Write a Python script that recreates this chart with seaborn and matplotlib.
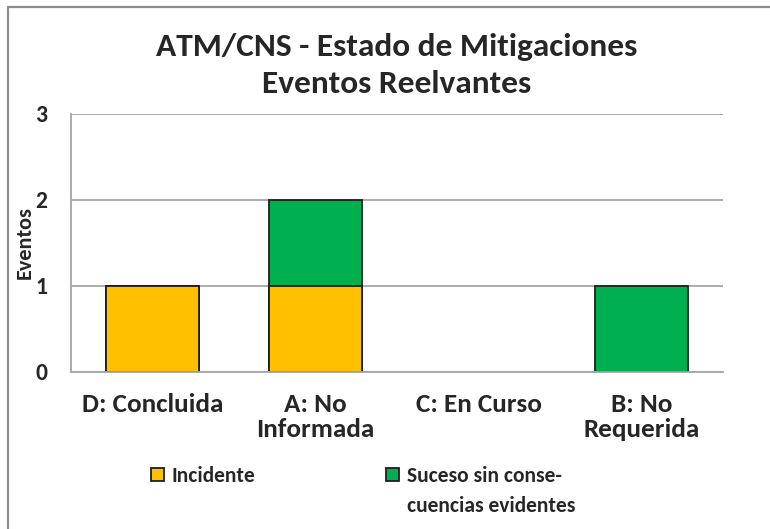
import pandas as pd
import seaborn as sns
import matplotlib.pyplot as plt
from matplotlib.patches import Patch
from matplotlib.lines import Line2D
from matplotlib.transforms import IdentityTransform

# Values
categories = ["D: Concluida", "A: No\nInformada", "C: En Curso", "B: No\nRequerida"]
incidente = [1, 1, 0, 0]
suceso = [0, 1, 0, 1]
series_names = ["Incidente", "Suceso sin conse-", "cuencias evidentes"]
yticks = [0, 1, 2, 3]

orange = "#FFC000"
green = "#00B050"
edge = "#1E1E1E"
grid = "#A6A6A6"

df = pd.DataFrame({"categoria": categories, "incidente": incidente, "suceso": suceso})
df["total"] = df["incidente"] + df["suceso"]
# empty stacks are not drawn at all
df["total"] = df["total"].where(df["total"] > 0)
df["incidente"] = df["incidente"].where(df["incidente"] > 0)

sns.set_style("white")
plt.rcParams["font.family"] = ["Carlito", "DejaVu Sans"]

fig = plt.figure(figsize=(7.7, 5.29), dpi=100)
ax = fig.add_axes([0.0922, 0.2968, 0.8468, 0.4877])

# stacked bars: total in green, then the bottom series in orange over it
sns.barplot(data=df, x="categoria", y="total", order=categories, color=green,
            saturation=1, width=0.57, edgecolor=edge, linewidth=1.3, ax=ax)
sns.barplot(data=df, x="categoria", y="incidente", order=categories, color=orange,
            saturation=1, width=0.57, edgecolor=edge, linewidth=1.3, ax=ax)

ax.set_xlim(-0.5, len(categories) - 0.5)
ax.set_ylim(0, 3)
ax.set_yticks(yticks)
ax.set_yticklabels([str(t) for t in yticks], fontsize=17, fontweight="bold")
ax.yaxis.grid(True, color=grid, linewidth=1.3)
ax.set_axisbelow(True)

ax.set_xticks(range(len(categories)))
ax.set_xticklabels(categories, fontsize=19.5, fontweight="bold")
for t in ax.get_xticklabels():
    t.set_linespacing(1.12)
ax.tick_params(axis="x", which="major", length=0, pad=15)
ax.set_xticks([i - 0.5 for i in range(len(categories) + 1)], minor=True)
ax.tick_params(axis="x", which="minor", length=6, color=grid, width=1.3)
ax.tick_params(axis="y", length=5, color=grid, width=1.3, pad=12)
ax.set_xlabel("")
ax.set_ylabel("Eventos", fontsize=16, fontweight="bold")
ax.yaxis.set_label_coords(-0.055, 0.5)

for s in ["top", "right"]:
    ax.spines[s].set_visible(False)
for s in ["left", "bottom"]:
    ax.spines[s].set_color(grid)
    ax.spines[s].set_linewidth(1.3)

ax.set_title("ATM/CNS - Estado de Mitigaciones\nEventos Reelvantes",
             fontsize=24, fontweight="bold", linespacing=1.42, pad=15)

handles = [Patch(facecolor=orange, edgecolor=edge, linewidth=1.3),
           Patch(facecolor=green, edgecolor=edge, linewidth=1.3)]
leg = fig.legend(handles, series_names[:2], loc="center left", bbox_to_anchor=(0.196, 0.1),
                 ncol=2, frameon=False, prop={"size": 15.5, "weight": "bold"},
                 borderpad=0, borderaxespad=0,
                 handlelength=0.6, handleheight=0.6, handletextpad=0.35, columnspacing=6.1)

# second line of the wrapped legend entry, placed under the first one
fig.canvas.draw()
bb = leg.get_texts()[1].get_window_extent()
fig.text(bb.x0, bb.y0 - 30, series_names[2], transform=IdentityTransform(),
         fontsize=15.5, fontweight="bold", va="bottom", ha="left")

# chart border (left and top edges visible)
fig.add_artist(Line2D([0.011, 0.011], [0.0, 0.986], transform=fig.transFigure,
                      color="#8C8C8C", linewidth=1.6))
fig.add_artist(Line2D([0.011, 1.0], [0.986, 0.986], transform=fig.transFigure,
                      color="#8C8C8C", linewidth=1.6))

fig.savefig("out.png", dpi=100)
